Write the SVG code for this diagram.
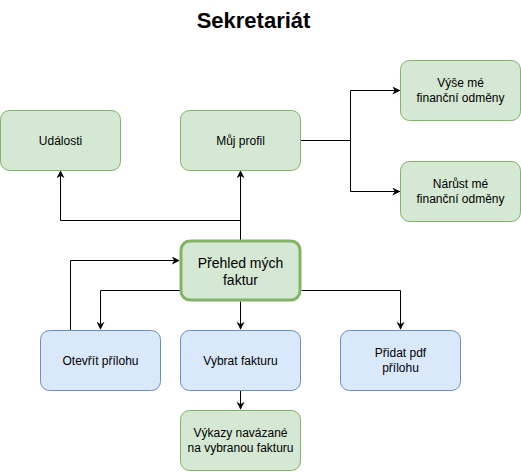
<svg xmlns="http://www.w3.org/2000/svg" width="521" height="472" viewBox="0 0 521 472">
<style>
.g{fill:#d5e8d4;stroke:#82b366;stroke-width:1}
.b{fill:#dae8fc;stroke:#6c8ebf;stroke-width:1}
.t{font-family:"Liberation Sans",Arial,sans-serif;font-size:12px;fill:#000;text-anchor:middle}
.e{fill:none;stroke:#000;stroke-width:1;marker-end:url(#a)}
.l{fill:none;stroke:#000;stroke-width:1}
</style>
<defs>
<marker id="a" viewBox="0 0 10 10" refX="9" refY="5" markerWidth="8" markerHeight="8" markerUnits="userSpaceOnUse" orient="auto">
<path d="M0,0 L10,5 L0,10 L3,5 Z" fill="#000"/>
</marker>
</defs>
<text x="253.5" y="28" style="font-family:'Liberation Sans',Arial,sans-serif;font-size:22px;font-weight:bold;text-anchor:middle">Sekretariát</text>
<g id="connectors">
<path class="e" d="M300.5,140.5 H350.5 V90.5 H399.5"/>
<path class="e" d="M350.5,140.5 V191.5 H399.5"/>
<path class="e" d="M240.5,240 V171"/>
<path class="e" d="M240.5,220.5 H60.5 V171"/>
<path class="e" d="M70.5,330 V260.5 H179"/>
<path class="e" d="M180,290.5 H100.5 V329"/>
<path class="e" d="M240.5,301.5 V329"/>
<path class="e" d="M301.5,290.5 H400.5 V329"/>
<path class="e" d="M240.5,390.5 V409"/>
</g>
<g id="udalosti"><rect class="g" x="0.5" y="110.5" width="120" height="60" rx="9"/><text class="t" x="60.5" y="145">Události</text></g>
<g id="mujprofil"><rect class="g" x="180.5" y="110.5" width="120" height="60" rx="9"/><text class="t" x="240.5" y="145">Můj profil</text></g>
<g id="vyse"><rect class="g" x="400.5" y="60.5" width="120" height="60" rx="9"/><text class="t" x="460.5" y="87">Výše mé</text><text class="t" x="460.5" y="102">finanční odměny</text></g>
<g id="narust"><rect class="g" x="400.5" y="161.5" width="120" height="60" rx="9"/><text class="t" x="460.5" y="188">Nárůst mé</text><text class="t" x="460.5" y="203">finanční odměny</text></g>
<g id="prehled"><rect x="181" y="241" width="119" height="59" rx="9" fill="#d5e8d4" stroke="#82b366" stroke-width="3"/><text class="t" x="240.5" y="268" style="font-size:14px">Přehled mých</text><text class="t" x="240.5" y="285" style="font-size:14px">faktur</text></g>
<g id="otevrit"><rect class="b" x="40.5" y="330.5" width="120" height="60" rx="9"/><text class="t" x="100.5" y="365">Otevřít přílohu</text></g>
<g id="vybrat"><rect class="b" x="180.5" y="330.5" width="120" height="60" rx="9"/><text class="t" x="240.5" y="365">Vybrat fakturu</text></g>
<g id="pridat"><rect class="b" x="340.5" y="330.5" width="120" height="60" rx="9"/><text class="t" x="400.5" y="357">Přidat pdf</text><text class="t" x="400.5" y="372">přílohu</text></g>
<g id="vykazy"><rect class="g" x="180.5" y="410.5" width="120" height="60" rx="9"/><text class="t" x="240.5" y="437">Výkazy navázané</text><text class="t" x="240.5" y="452">na vybranou fakturu</text></g>
</svg>
